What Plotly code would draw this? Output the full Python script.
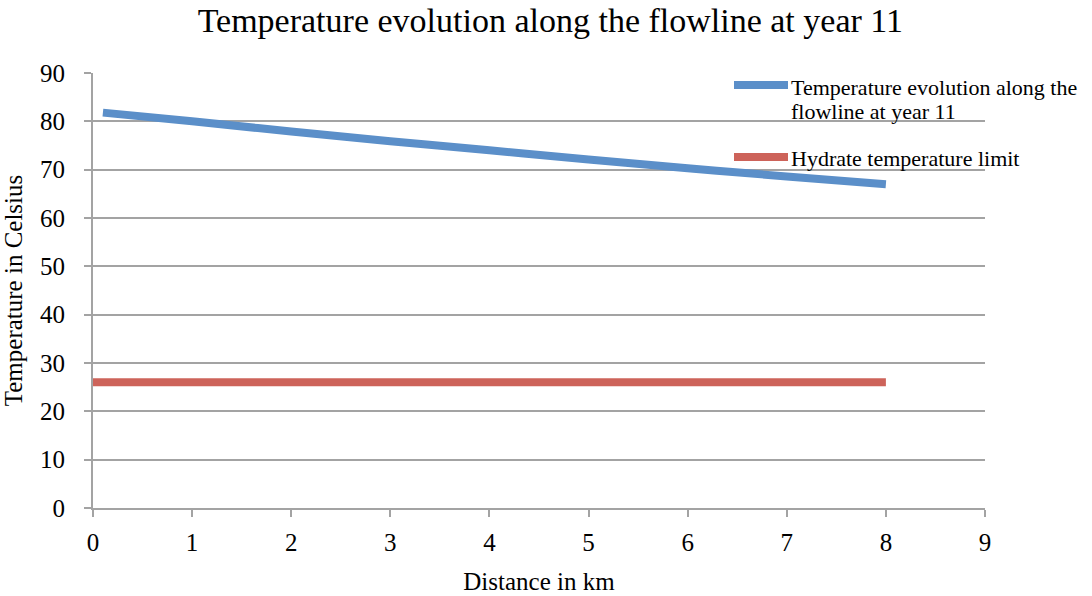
import plotly.graph_objects as go

# Distance along the flowline (km) and temperatures (°C)
distance_km = [0.1, 1, 2, 3, 4, 5, 6, 7, 8]
temp_year11 = [81.8, 80.0, 77.9, 75.9, 74.0, 72.1, 70.3, 68.6, 67.0]

hydrate_km = [0, 8]
hydrate_limit = [26, 26]

x_ticks = list(range(0, 10))
y_ticks = list(range(0, 100, 10))

series_names = ["Temperature evolution along the", "flowline at year 11"]
limit_name = "Hydrate temperature limit"

FONT = "Liberation Serif"
GRID = "#a3a3a3"
BLUE = "#5b8fc9"
RED = "#cd635a"

W, H = 1092, 596
M = dict(l=93, r=107, t=73, b=88)
PW, PH = W - M["l"] - M["r"], H - M["t"] - M["b"]


def px_x(px):
    return (px - M["l"]) / PW


def px_y(py):
    return (H - M["b"] - py) / PH


fig = go.Figure()
fig.add_trace(go.Scatter(
    x=distance_km, y=temp_year11, mode="lines",
    name=" ".join(series_names), showlegend=False,
    line=dict(color=BLUE, width=8, shape="spline"),
))
fig.add_trace(go.Scatter(
    x=hydrate_km, y=hydrate_limit, mode="lines",
    name=limit_name, showlegend=False,
    line=dict(color=RED, width=8),
))

# Legend drawn as line samples plus text, sitting over the top-right corner
shapes = []
annotations = []
for color, py in [(BLUE, 85), (RED, 157)]:
    shapes.append(dict(type="line", xref="paper", yref="paper",
                       x0=px_x(734), x1=px_x(788), y0=px_y(py), y1=px_y(py),
                       line=dict(color=color, width=8)))
for text, py in [(series_names[0], 87), (series_names[1], 111), (limit_name, 158)]:
    annotations.append(dict(text=text, xref="paper", yref="paper",
                            x=px_x(789), y=px_y(py), xanchor="left", yanchor="middle",
                            showarrow=False, align="left",
                            font=dict(size=22, family=FONT, color="black")))

fig.update_layout(
    width=W, height=H,
    margin=M,
    paper_bgcolor="white", plot_bgcolor="white",
    font=dict(family=FONT, color="black"),
    showlegend=False,
    title=dict(text="Temperature evolution along the flowline at year 11",
               x=0.504, xanchor="center", y=1 - 20 / H, yanchor="middle",
               font=dict(size=34, family=FONT)),
    shapes=shapes,
    annotations=annotations,
    xaxis=dict(range=[0, 9], tickvals=x_ticks, showgrid=False, automargin=False,
               showline=True, linecolor=GRID, linewidth=2,
               ticks="outside", ticklen=7, tickcolor=GRID, tickwidth=2,
               tickfont=dict(size=25), zeroline=False, ticklabelstandoff=4,
               title=dict(text="Distance in km", font=dict(size=25), standoff=17)),
    yaxis=dict(range=[0, 90], tickvals=y_ticks, showgrid=True, automargin=False,
               gridcolor=GRID, gridwidth=1.5,
               showline=True, linecolor=GRID, linewidth=2,
               ticks="outside", ticklen=7, tickcolor=GRID, tickwidth=2,
               tickfont=dict(size=25), zeroline=False, ticklabelstandoff=14,
               title=dict(text="Temperature in Celsius", font=dict(size=25), standoff=10)),
)

fig.write_html("out.html")
